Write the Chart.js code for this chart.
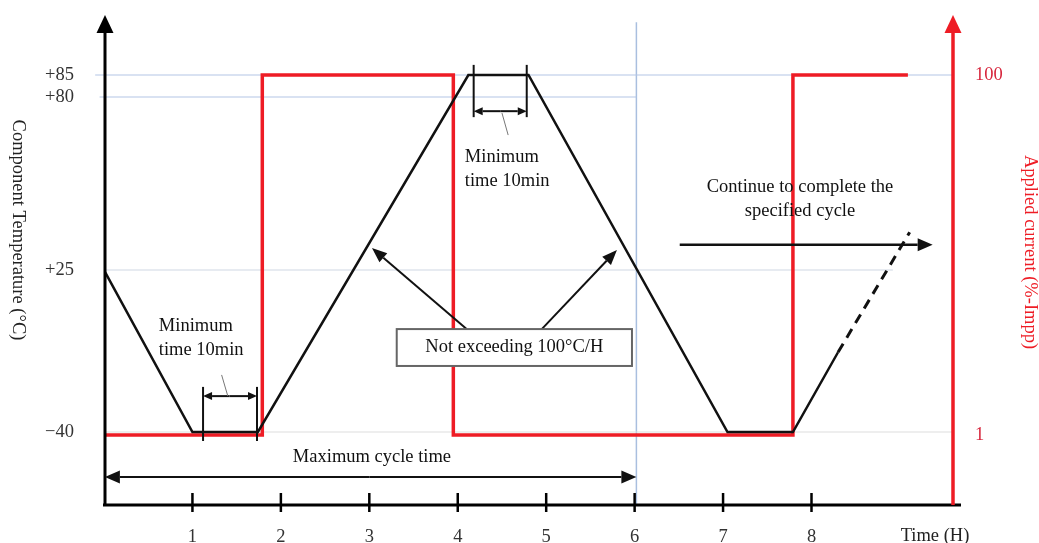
<!DOCTYPE html>
<html lang="en">
<head>
  <meta charset="UTF-8" />
  <title>Temperature cycling with applied current</title>
  <script src="https://cdn.jsdelivr.net/npm/chart.js@4.4.0"></script>
  <style>
    html, body { margin: 0; padding: 0; background: #fff; }
  </style>
</head>
<body>
  <canvas id="cycleChart" width="1039" height="543"></canvas>

  <script>
    // component temperature profile (hours, °C)
    const tempTimes = [0, 1.0, 1.74, 4.12, 4.8, 7.05, 7.79, 8.3];
    const tempValues = [25, -40, -40, 85, 85, -40, -40, -8];
    // dashed continuation of the next cycle
    const nextTimes = [8.3, 9.11];
    const nextValues = [-8, 37];
    // applied current (%-Impp), changes at these hours
    const currentTimes = [0, 1.79, 3.95, 7.79, 9.09];
    const currentValues = [1, 100, 1, 100, 100];

    const timeTicks = [1, 2, 3, 4, 5, 6, 7, 8];
    const tempTicks = [-40, 25, 80, 85];
    const currentTicks = [1, 100];

    // light reference lines
    const guideTemps = [85, 80, 25, -40];
    const guideStarts = [-0.1, -0.05, 0, 0];
    const guideEnds = [9.6, 6.02, 8.92, 9.6];
    const guideColors = ['#b3c6e5', '#b3c6e5', '#cfd8e4', '#dddddd'];
    const cycleEnd = 6.02;

    const FONT = "'Liberation Serif', 'Times New Roman', serif";
    const SIZE = 18.5;

    // the temperature axis of the sketch is not to scale: piecewise linear
    const tempBreaks = {
      values: [-69.3, -40, 25, 80, 85, 97.5],
      fractions: [0, 0.1505, 0.4845, 0.8412, 0.8866, 1]
    };

    class BrokenScale extends Chart.LinearScale {
      getPixelForValue(value) {
        const { values, fractions } = tempBreaks;
        let i = 1;
        while (i < values.length - 1 && value > values[i]) i++;
        const f = fractions[i - 1] + (value - values[i - 1]) * (fractions[i] - fractions[i - 1]) / (values[i] - values[i - 1]);
        return this.bottom - f * (this.bottom - this.top);
      }
      getValueForPixel(pixel) {
        const { values, fractions } = tempBreaks;
        const f = (this.bottom - pixel) / (this.bottom - this.top);
        let i = 1;
        while (i < fractions.length - 1 && f > fractions[i]) i++;
        return values[i - 1] + (f - fractions[i - 1]) * (values[i] - values[i - 1]) / (fractions[i] - fractions[i - 1]);
      }
    }
    BrokenScale.id = 'broken';
    BrokenScale.defaults = {};
    Chart.register(BrokenScale);

    function noPadding(s) {
      s.paddingTop = 0; s.paddingBottom = 0; s.paddingLeft = 0; s.paddingRight = 0;
    }

    function arrow(ctx, x0, y0, x1, y1, len, half) {
      const a = Math.atan2(y1 - y0, x1 - x0);
      const bx = x1 - len * Math.cos(a), by = y1 - len * Math.sin(a);
      ctx.beginPath();
      ctx.moveTo(x0, y0);
      ctx.lineTo(bx, by);
      ctx.stroke();
      ctx.beginPath();
      ctx.moveTo(x1, y1);
      ctx.lineTo(bx + half * Math.sin(a), by - half * Math.cos(a));
      ctx.lineTo(bx - half * Math.sin(a), by + half * Math.cos(a));
      ctx.closePath();
      ctx.fill();
    }

    function line(ctx, x0, y0, x1, y1) {
      ctx.beginPath();
      ctx.moveTo(x0, y0);
      ctx.lineTo(x1, y1);
      ctx.stroke();
    }

    const overlay = {
      id: 'overlay',
      afterDraw(chart) {
        const { ctx, chartArea: area } = chart;
        const xs = chart.scales.x, ys = chart.scales.y;
        const X = t => xs.getPixelForValue(t);
        const Y = v => ys.getPixelForValue(v);
        ctx.save();
        ctx.lineCap = 'butt';

        // axes with arrows
        ctx.strokeStyle = '#000'; ctx.fillStyle = '#000'; ctx.lineWidth = 3;
        arrow(ctx, area.left + 1, area.bottom + 1, area.left + 1, area.top - 5, 18, 8.5);
        line(ctx, area.left - 1, area.bottom, area.right + 8, area.bottom);
        ctx.lineWidth = 2.5;
        timeTicks.forEach(t => line(ctx, X(t), area.bottom - 12, X(t), area.bottom + 7));

        ctx.strokeStyle = '#ee1c25'; ctx.fillStyle = '#ee1c25'; ctx.lineWidth = 3.5;
        arrow(ctx, area.right, area.bottom, area.right, area.top - 5, 18, 8.5);

        // axis titles
        ctx.font = SIZE + 'px ' + FONT;
        ctx.textAlign = 'center'; ctx.textBaseline = 'middle';
        ctx.save();
        ctx.translate(18, 230); ctx.rotate(Math.PI / 2);
        ctx.fillStyle = '#222';
        ctx.fillText('Component Temperature (°C)', 0, 0);
        ctx.restore();
        ctx.save();
        ctx.translate(1030, 252); ctx.rotate(Math.PI / 2);
        ctx.fillStyle = '#ee1c25';
        ctx.fillText('Applied current (%-Impp)', 0, 0);
        ctx.restore();
        ctx.fillStyle = '#222';
        ctx.fillText('Time (H)', area.right - 18, area.bottom + 31);

        // dwell time at the top
        ctx.strokeStyle = '#111'; ctx.fillStyle = '#111'; ctx.lineWidth = 2;
        line(ctx, X(4.18), Y(87.3), X(4.18), Y(73.6));
        line(ctx, X(4.78), Y(87.3), X(4.78), Y(73.6));
        arrow(ctx, X(4.48), Y(75.5), X(4.18), Y(75.5), 9, 4);
        arrow(ctx, X(4.48), Y(75.5), X(4.78), Y(75.5), 9, 4);
        ctx.strokeStyle = '#777'; ctx.lineWidth = 1;
        line(ctx, X(4.50), Y(74.9), X(4.57), Y(67.9));

        // dwell time at the bottom
        ctx.strokeStyle = '#111'; ctx.lineWidth = 2;
        line(ctx, X(1.12), Y(-21.9), X(1.12), Y(-43.6));
        line(ctx, X(1.73), Y(-21.9), X(1.73), Y(-43.6));
        arrow(ctx, X(1.42), Y(-25.6), X(1.12), Y(-25.6), 9, 4);
        arrow(ctx, X(1.42), Y(-25.6), X(1.73), Y(-25.6), 9, 4);
        ctx.strokeStyle = '#777'; ctx.lineWidth = 1;
        line(ctx, X(1.33), Y(-17.1), X(1.40), Y(-25.6));

        ctx.fillStyle = '#111';
        ctx.textAlign = 'left';
        ctx.fillText('Minimum', X(4.08), Y(60.9));
        ctx.fillText('time 10min', X(4.08), Y(53.3));
        ctx.fillText('Minimum', X(0.62), Y(2.5));
        ctx.fillText('time 10min', X(0.62), Y(-7.1));

        // ramp rate box
        ctx.strokeStyle = '#111'; ctx.lineWidth = 2;
        arrow(ctx, X(4.10), Y(1.3), X(3.03), Y(32.0), 15, 6);
        arrow(ctx, X(4.95), Y(1.3), X(5.80), Y(31.4), 15, 6);
        ctx.fillStyle = '#fff';
        ctx.strokeStyle = '#666';
        const bx0 = X(3.31), bx1 = X(5.97), by0 = Y(1.3), by1 = Y(-13.5);
        ctx.fillRect(bx0, by0, bx1 - bx0, by1 - by0);
        ctx.strokeRect(bx0, by0, bx1 - bx0, by1 - by0);
        ctx.fillStyle = '#111';
        ctx.textAlign = 'center';
        ctx.fillText('Not exceeding 100°C/H', X(4.64), Y(-6.1));

        // maximum cycle time
        ctx.strokeStyle = '#111'; ctx.lineWidth = 2;
        arrow(ctx, X(3), Y(-58.1), X(0.01), Y(-58.1), 15, 6.5);
        arrow(ctx, X(3), Y(-58.1), X(cycleEnd), Y(-58.1), 15, 6.5);
        ctx.fillText('Maximum cycle time', X(3.03), Y(-50.0));

        // continue
        ctx.fillText('Continue to complete the', X(7.87), Y(51.4));
        ctx.fillText('specified cycle', X(7.87), Y(43.8));
        ctx.lineWidth = 2.5;
        arrow(ctx, X(6.51), Y(33.0), X(9.37), Y(33.0), 15, 6.5);

        ctx.restore();
      }
    };

    const guideSets = guideTemps.map((v, i) => ({
      data: [{ x: guideStarts[i], y: v }, { x: guideEnds[i], y: v }],
      borderColor: guideColors[i],
      borderWidth: 1.2,
      pointRadius: 0,
      clip: false,
      yAxisID: 'y',
      order: 5
    }));
    guideSets.push({
      data: [{ x: cycleEnd, y: tempBreaks.values[0] }, { x: cycleEnd, y: 97 }],
      borderColor: '#a9bfdf',
      borderWidth: 1.5,
      pointRadius: 0,
      yAxisID: 'y',
      order: 5
    });

    new Chart(document.getElementById('cycleChart'), {
      type: 'line',
      data: {
        datasets: [
          {
            label: 'Component Temperature',
            data: tempTimes.map((t, i) => ({ x: t, y: tempValues[i] })),
            borderColor: '#111',
            borderWidth: 2.5,
            pointRadius: 0,
            yAxisID: 'y',
            order: 0
          },
          {
            label: 'Next cycle',
            data: nextTimes.map((t, i) => ({ x: t, y: nextValues[i] })),
            borderColor: '#111',
            borderWidth: 3,
            borderDash: [10, 7],
            pointRadius: 0,
            clip: false,
            yAxisID: 'y',
            order: 0
          },
          {
            label: 'Applied current',
            data: currentTimes.map((t, i) => ({ x: t, y: currentValues[i] })),
            borderColor: '#ee1c25',
            borderWidth: 3.5,
            stepped: 'before',
            pointRadius: 0,
            yAxisID: 'y1',
            order: 1
          },
          ...guideSets
        ]
      },
      options: {
        responsive: false,
        animation: false,
        layout: { padding: { top: 20, left: 0, right: 0, bottom: 0 } },
        plugins: {
          legend: { display: false },
          tooltip: { enabled: false }
        },
        scales: {
          x: {
            type: 'linear',
            min: 0,
            max: 9.6,
            afterBuildTicks: s => { s.ticks = timeTicks.map(v => ({ value: v })); },
            afterFit: s => { s.height = 38; noPadding(s); },
            grid: { display: false, drawTicks: false },
            border: { display: false },
            ticks: { color: '#333', padding: 21, font: { family: FONT, size: SIZE } }
          },
          y: {
            type: 'broken',
            position: 'left',
            min: tempBreaks.values[0],
            max: tempBreaks.values[tempBreaks.values.length - 1],
            afterBuildTicks: s => { s.ticks = tempTicks.map(v => ({ value: v })); },
            afterFit: s => { s.width = 104; noPadding(s); },
            grid: { display: false, drawTicks: false },
            border: { display: false },
            ticks: {
              color: '#333',
              padding: 30,
              font: { family: FONT, size: SIZE },
              callback: v => (v > 0 ? '+' + v : '\u2212' + Math.abs(v))
            }
          },
          y1: {
            type: 'linear',
            position: 'right',
            min: -18.25,
            max: 115.1,
            afterBuildTicks: s => { s.ticks = currentTicks.map(v => ({ value: v })); },
            afterFit: s => { s.width = 86; noPadding(s); },
            grid: { display: false, drawTicks: false },
            border: { display: false },
            ticks: { color: '#d7263d', padding: 22, font: { family: FONT, size: SIZE } }
          }
        }
      },
      plugins: [overlay]
    });
  </script>
</body>
</html>
